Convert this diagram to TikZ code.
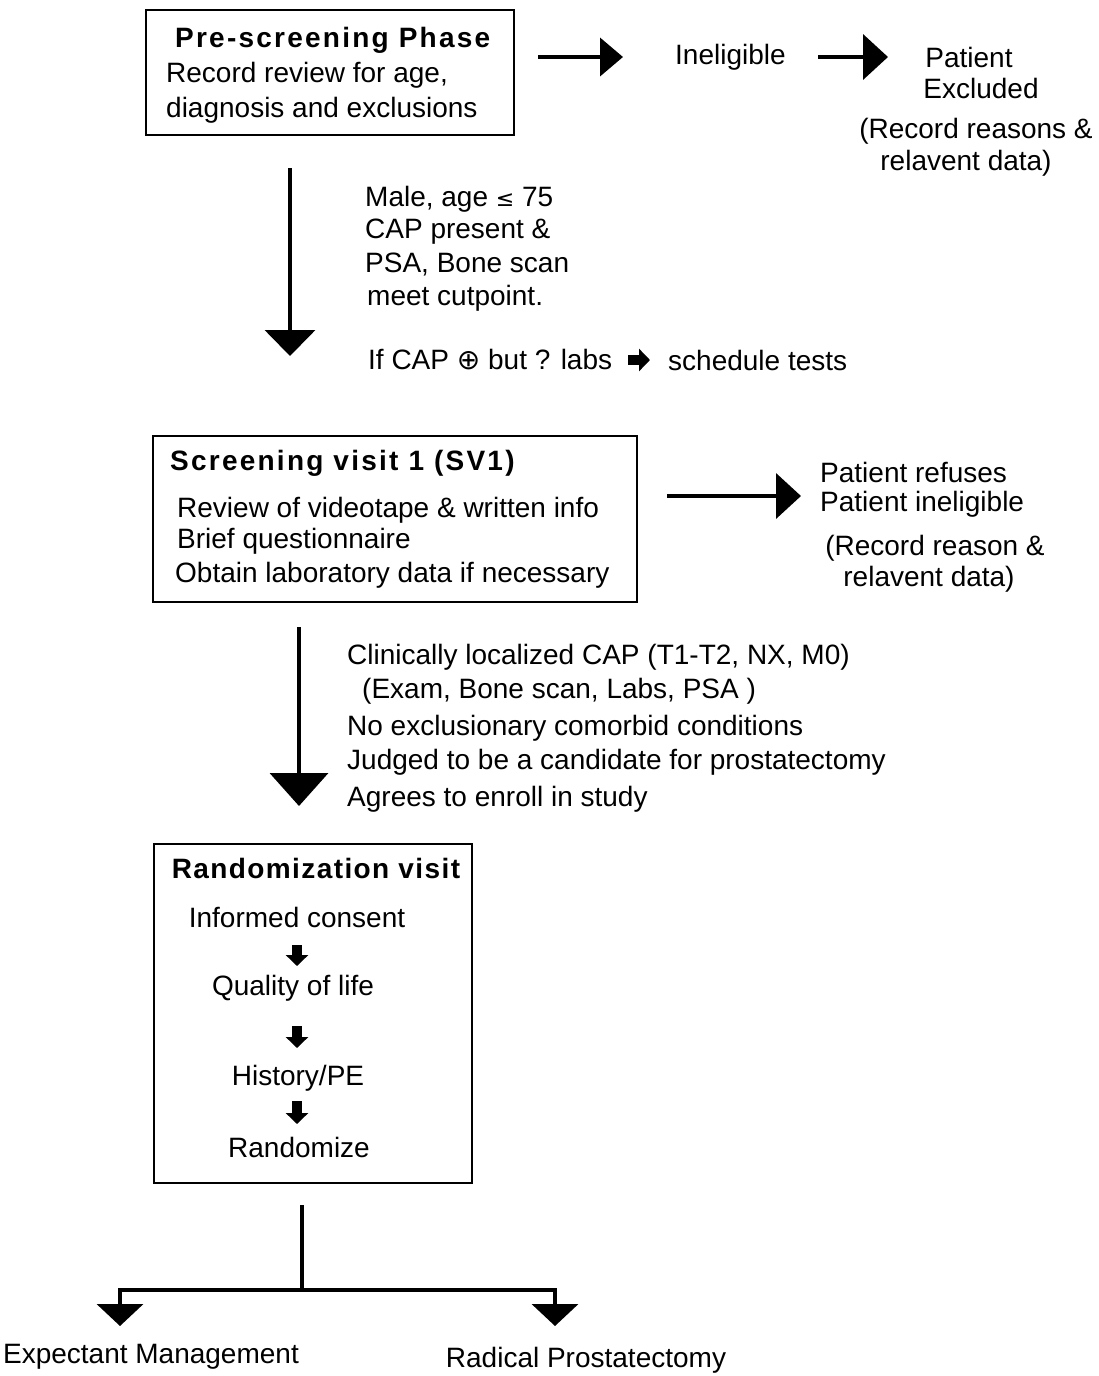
\documentclass[tikz,border=0pt]{standalone}
\usepackage{fontspec}
\setmainfont{Liberation Sans}
\newfontfamily\djv{DejaVu Sans}
\usetikzlibrary{arrows.meta}
\begin{document}
\begin{tikzpicture}[x=1pt,y=-1pt,
  every node/.style={inner sep=0pt},
  font=\fontsize{28}{32}\selectfont,
  txt/.style={anchor=west},
  ctr/.style={anchor=center},
  ttl/.style={font=\fontsize{28}{32}\selectfont\bfseries\addfontfeature{LetterSpace=8}},
  ttlb/.style={font=\fontsize{28}{32}\selectfont\bfseries\addfontfeature{LetterSpace=5}},
  boxr/.style={draw, line width=2pt},
  hline/.style={line width=4pt},
  harrowA/.style={line width=4pt, -{Triangle[width=38pt,length=23pt]}},
  harrowB/.style={line width=4pt, -{Triangle[width=45pt,length=25pt]}},
  varrowA/.style={line width=4pt, -{Triangle[width=50pt,length=26pt]}},
  varrowB/.style={line width=4pt, -{Triangle[width=58pt,length=33pt]}},
  varrowC/.style={line width=4pt, -{Triangle[width=46pt,length=22pt]}},
  smallarrow/.style={line width=10pt, -{Triangle[width=22pt,length=11pt]}},
]
\useasboundingbox (0,0) rectangle (1099,1376);
\fill[white] (0,0) rectangle (1099,1376);

% ---- Box 1
\node[boxr, minimum width=368pt, minimum height=125pt] (b1) at (330,72.5) {};
\node[txt, ttl] (t1) at (175,40) {Pre-screening Phase};
\node[txt] (t1a) at (166,75) {Record review for age,};
\node[txt] (t1b) at (166,110) {diagnosis and exclusions};

\node[txt] (inel) at (675,57) {Ineligible};
\node[ctr] (pat) at (969,57) {Patient};
\node[ctr] (exc) at (981,88) {Excluded};
\node[ctr] (rec1) at (976,131) {(Record reasons \&};
\node[ctr] (rel1) at (966,163) {relavent data)};

\coordinate (a1s) at (538,57);
\coordinate (a1e) at (623,57);
\draw[harrowA] (a1s) -- (a1e);
\coordinate (a2s) at (818,57);
\coordinate (a2e) at (888,57);
\draw[harrowB] (a2s) -- (a2e);

% ---- arrow 1
\coordinate (v1s) at (290,168);
\coordinate (v1e) at (290,356);
\draw[varrowA] (v1s) -- (v1e);
\node[txt] (c1) at (365,199) {Male, age {\djv\fontsize{22}{26}\selectfont ≤} 75};
\node[txt] (c2) at (365,232) {CAP present \&};
\node[txt] (c3) at (365,265) {PSA, Bone scan};
\node[txt] (c4) at (367,298) {meet cutpoint.};
\node[txt] (c5) at (368,360) {If CAP {\djv ⊕} but ? labs};
\coordinate (sa1s) at (628,360);
\coordinate (sa1e) at (650,360);
\draw[smallarrow] (sa1s) -- (sa1e);
\node[txt] (c6) at (668,360) {schedule tests};

% ---- Box 2
\node[boxr, minimum width=484pt, minimum height=166pt] (b2) at (395,519) {};
\node[txt, ttl] (t2) at (170,463) {Screening visit 1 (SV1)};
\node[txt] (t2a) at (177,510) {Review of videotape \& written info};
\node[txt] (t2b) at (177,541) {Brief questionnaire};
\node[txt] (t2c) at (175,575) {Obtain laboratory data if necessary};

\coordinate (a3s) at (667,496);
\coordinate (a3e) at (801,496);
\draw[harrowB] (a3s) -- (a3e);
\node[txt] (pr) at (820,472) {Patient refuses};
\node[txt] (pi) at (820,504) {Patient ineligible};
\node[ctr] (rec2) at (935,548) {(Record reason \&};
\node[ctr] (rel2) at (929,579) {relavent data)};

% ---- arrow 2
\coordinate (v2s) at (299,627);
\coordinate (v2e) at (299,806);
\draw[varrowB] (v2s) -- (v2e);
\node[txt] (d1) at (347,657) {Clinically localized CAP (T1-T2, NX, M0)};
\node[txt] (d2) at (362,691) {(Exam, Bone scan, Labs, PSA )};
\node[txt] (d3) at (347,728) {No exclusionary comorbid conditions};
\node[txt] (d4) at (347,762) {Judged to be a candidate for prostatectomy};
\node[txt] (d5) at (347,799) {Agrees to enroll in study};

% ---- Box 3
\node[boxr, minimum width=318pt, minimum height=339pt] (b3) at (313,1013.5) {};
\node[ctr, ttlb] (t3) at (316,868) {Randomization visit};
\node[ctr] (r1) at (297,917) {Informed consent};
\node[ctr] (r2) at (293,988) {Quality of life};
\node[ctr] (r3) at (298,1078) {History/PE};
\node[ctr] (r4) at (299,1147) {Randomize};
\coordinate (s1s) at (297,945);
\coordinate (s1e) at (297,966);
\draw[smallarrow] (s1s) -- (s1e);
\coordinate (s2s) at (297,1026);
\coordinate (s2e) at (297,1048);
\draw[smallarrow] (s2s) -- (s2e);
\coordinate (s3s) at (297,1101);
\coordinate (s3e) at (297,1124);
\draw[smallarrow] (s3s) -- (s3e);

% ---- bottom split
\coordinate (bs) at (302,1207);
\coordinate (bj) at (302,1290);
\coordinate (bl) at (120,1290);
\coordinate (br) at (555,1290);
\coordinate (ble) at (120,1326);
\coordinate (bre) at (555,1326);
\draw[hline, line cap=rect] (bs) -- (bj);
\draw[hline, line cap=rect] (bl) -- (br);
\draw[varrowC] (bl) -- (ble);
\draw[varrowC] (br) -- (bre);
\node[ctr] (em) at (151,1357) {Expectant Management};
\node[ctr] (rp) at (586,1360) {Radical Prostatectomy};
\end{tikzpicture}
\end{document}
